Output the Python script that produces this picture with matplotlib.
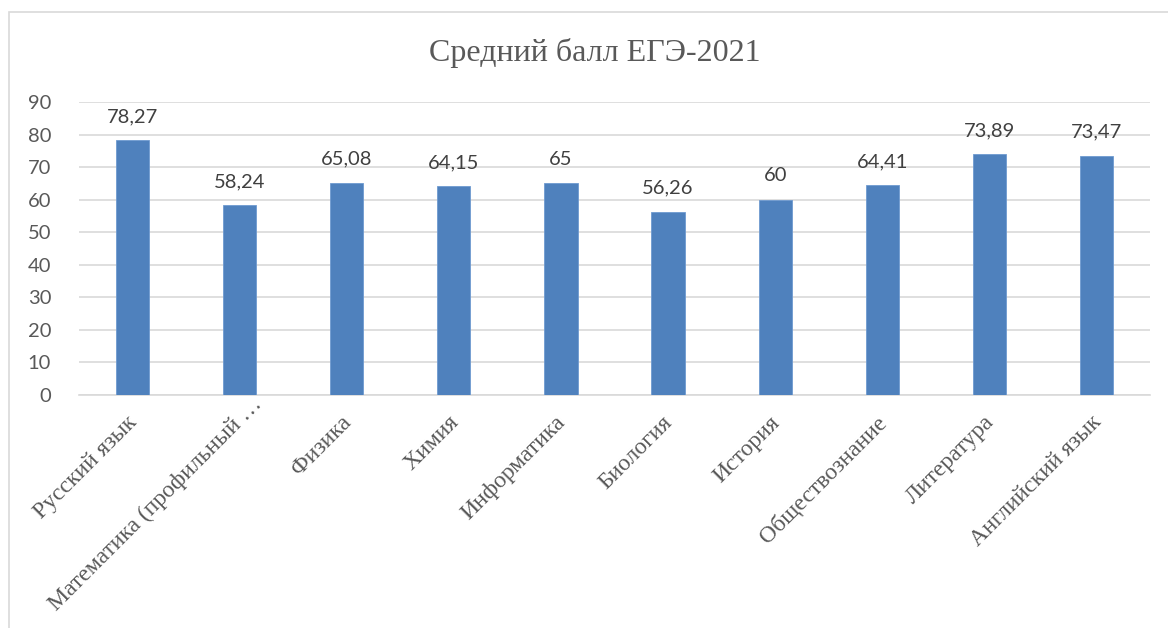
import matplotlib
matplotlib.use("Agg")
import matplotlib.pyplot as plt
from matplotlib.patches import Rectangle
from matplotlib.transforms import ScaledTranslation

categories = ["Русский язык", "Математика (профильный …", "Физика", "Химия",
              "Информатика", "Биология", "История", "Обществознание",
              "Литература", "Английский язык"]
values = [78.27, 58.24, 65.08, 64.15, 65, 56.26, 60, 64.41, 73.89, 73.47]
value_labels = ["78,27", "58,24", "65,08", "64,15", "65", "56,26", "60", "64,41", "73,89", "73,47"]
yticks = [0, 10, 20, 30, 40, 50, 60, 70, 80, 90]
title = "Средний балл ЕГЭ-2021"

W, H = 1168, 628
fig = plt.figure(figsize=(W / 100, H / 100), dpi=100)
fig.patch.set_facecolor("white")

# chart border
fig.patches.append(Rectangle((8.5 / W, -0.05), 1.2, 1 - 12 / H + 0.05,
                             transform=fig.transFigure, fill=False,
                             edgecolor="#d9d9d9", lw=1.2))

ax = fig.add_axes([79 / W, 1 - 395 / H, (1150 - 79) / W, (395 - 102) / H])
x = list(range(len(categories)))
ax.bar(x, values, width=0.31, color="#4f81bd", edgecolor="#6f9ad0", lw=0.6, zorder=3)
ax.set_xlim(-0.5, len(categories) - 0.5)
ax.set_ylim(0, 90)
ax.set_yticks(yticks)
ax.set_yticklabels([str(t) for t in yticks], fontfamily="Lato", fontsize=14.5, color="#595959")
ax.grid(axis="y", color="#d9d9d9", lw=1.2, zorder=0)
for s in ["top", "right", "left"]:
    ax.spines[s].set_visible(False)
ax.spines["bottom"].set_color("#d9d9d9")
ax.spines["bottom"].set_linewidth(1.2)
ax.tick_params(axis="both", length=0)
ax.tick_params(axis="y", pad=20)

ax.set_xticks(x)
ax.set_xticklabels(categories, rotation=45, ha="right", va="top",
                   rotation_mode="anchor", fontfamily="Liberation Serif",
                   fontsize=17, color="#595959")
for i, lab in enumerate(ax.get_xticklabels()):
    dx, dy = -6, -12
    if lab.get_text().endswith("…"):
        dx, dy = 12, 6
    lab.set_transform(lab.get_transform() + ScaledTranslation(dx / 100, dy / 100, fig.dpi_scale_trans))

for xi, v, lbl in zip(x, values, value_labels):
    ax.annotate(lbl, (xi, v), xytext=(0, 11), textcoords="offset points",
                ha="center", va="bottom", fontfamily="Lato", fontsize=14.5,
                color="#404040")

fig.text(595 / W, 1 - 53 / H, title, ha="center", va="center",
         fontfamily="Liberation Serif", fontsize=23, color="#595959")

fig.savefig("out.png", dpi=100, facecolor="white")
